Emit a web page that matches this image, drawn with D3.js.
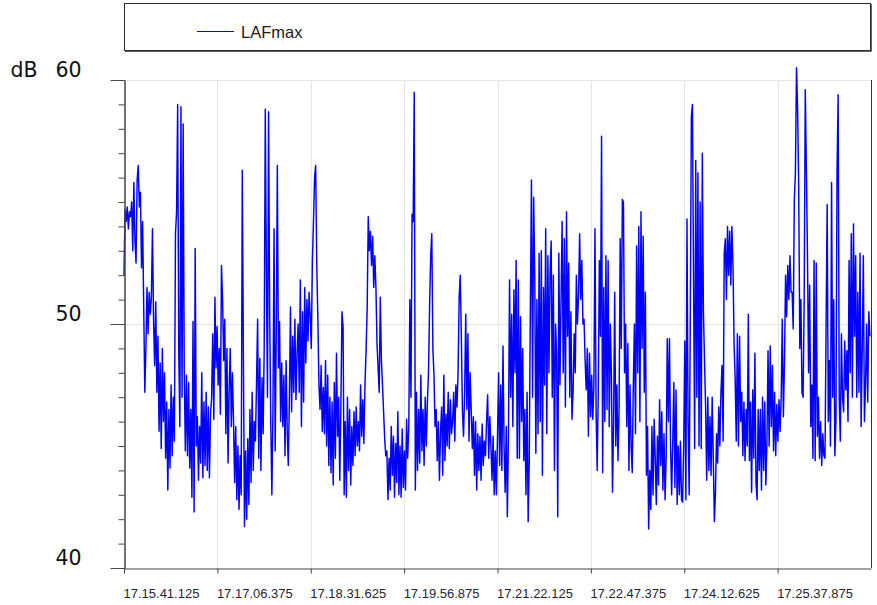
<!DOCTYPE html>
<html>
<head>
<meta charset="utf-8">
<script src="https://cdn.jsdelivr.net/npm/d3@7/dist/d3.min.js"></script>
<style>
  html, body { margin: 0; padding: 0; background: #ffffff; }
  svg { display: block; }
</style>
</head>
<body>
<svg id="chart" width="877" height="605"></svg>
<script>
// Sound level log: LAFmax, one value per second
const seriesName = "LAFmax";
const unitLabel = "dB";
const startTime = "17.15.41.125";
const sampleStepMs = 1000;
const xTickLabels = ["17.15.41.125", "17.17.06.375", "17.18.31.625", "17.19.56.875",
                     "17.21.22.125", "17.22.47.375", "17.24.12.625", "17.25.37.875"];
const yDomain = [40, 60];
const yMajorTicks = [40, 50, 60];
const yMinorTicks = d3.range(40, 61, 1);

const lafmax = [
  52.0, 54.7, 54.2, 54.8, 53.9, 54.6, 54.4, 55.0, 53.0, 55.8,
  53.4, 52.5, 55.9, 56.5, 54.8, 55.4, 52.3, 54.2, 50.7, 47.2,
  49.0, 51.5, 49.6, 51.3, 50.4, 51.1, 53.9, 50.1, 48.3, 50.9,
  47.2, 49.5, 45.6, 48.4, 44.9, 49.0, 46.0, 48.0, 44.5, 46.8,
  43.2, 46.5, 44.1, 47.5, 44.6, 47.0, 45.2, 53.7, 54.6, 59.0,
  48.8, 45.8, 58.9, 47.0, 58.2, 48.1, 44.8, 47.9, 44.6, 47.6,
  44.1, 46.5, 42.9, 50.1, 42.3, 53.1, 45.0, 46.2, 43.6, 45.8,
  44.3, 48.0, 43.7, 46.8, 44.2, 47.2, 44.0, 46.6, 43.7, 46.3,
  47.0, 49.6, 46.1, 51.1, 48.2, 49.9, 47.5, 49.0, 46.3, 52.4,
  51.0, 48.5, 50.2, 45.5, 49.0, 44.3, 47.3, 49.0, 45.8, 48.0,
  46.0, 43.5, 45.8, 42.8, 45.0, 42.4, 44.6, 43.0, 56.3, 48.7,
  41.7, 44.8, 42.0, 45.3, 42.6, 46.5, 43.5, 47.2, 44.0, 46.0,
  45.2, 47.6, 50.2, 44.5, 48.6, 44.0, 47.8, 45.5, 49.0, 58.8,
  52.0, 47.0, 58.7, 50.5, 46.0, 43.0, 46.5, 53.9, 44.8, 49.5,
  56.5, 48.2, 50.1, 46.0, 48.4, 45.8, 47.9, 44.6, 48.5, 45.6,
  44.2, 47.0, 50.7, 46.4, 49.5, 47.2, 50.2, 46.9, 48.8, 50.0,
  47.2, 51.8, 45.8, 50.5, 46.8, 51.5, 48.4, 51.0, 49.3, 51.3,
  50.3, 49.0, 52.6, 54.2, 56.0, 56.5, 52.4, 50.2, 47.5, 46.5,
  48.3, 45.6, 47.4, 45.5, 48.5, 45.0, 47.9, 44.2, 47.0, 43.9,
  46.8, 43.4, 47.6, 44.5, 48.8, 45.4, 47.0, 43.6, 46.6, 50.5,
  49.9, 43.0, 46.0, 42.9, 47.0, 44.0, 46.5, 43.4, 45.8, 44.2,
  46.4, 44.6, 46.6, 45.0, 46.0, 44.8, 47.5, 45.4, 46.9, 45.1,
  47.5, 48.9, 50.6, 54.4, 53.0, 53.8, 52.4, 53.6, 51.5, 52.8,
  51.5, 49.2, 48.2, 47.2, 51.1, 48.5, 47.5, 46.4, 45.3, 44.6,
  44.8, 42.8, 44.5, 43.2, 45.8, 43.8, 45.4, 42.9, 45.1, 43.5,
  46.4, 43.0, 45.0, 42.9, 45.7, 43.3, 44.8, 43.2, 46.1, 44.5,
  45.8, 51.0, 47.0, 54.5, 54.2, 59.5, 43.2, 47.2, 44.0, 46.5,
  44.3, 47.9, 44.8, 46.5, 44.2, 47.0, 45.0, 46.8, 48.0, 50.7,
  52.8, 53.7, 49.0, 47.9, 45.8, 46.5, 44.4, 46.0, 43.6, 45.6,
  46.6, 43.8, 47.9, 44.4, 46.3, 45.0, 47.2, 44.9, 46.9, 45.5,
  46.0, 47.2, 45.2, 47.5, 46.6, 48.0, 51.1, 52.0, 49.4, 46.4,
  45.4, 47.2, 50.4, 46.5, 49.6, 45.2, 48.0, 46.5, 44.9, 46.2,
  43.8, 46.0, 43.2, 45.5, 44.0, 45.4, 43.6, 45.9, 44.2, 45.2,
  44.6, 46.0, 47.1, 44.5, 46.2, 45.0, 43.6, 45.4, 43.0, 44.8,
  43.0, 45.4, 48.0, 44.2, 47.5, 44.0, 49.1, 45.0, 43.1, 45.8,
  42.1, 45.5, 51.8, 47.0, 50.4, 45.8, 51.4, 48.0, 52.6, 44.5,
  51.8, 44.5, 50.3, 46.0, 49.0, 44.4, 46.5, 43.0, 47.2, 41.9,
  44.4, 50.7, 55.9, 47.0, 55.2, 52.0, 44.7, 51.0, 45.5, 52.9,
  46.0, 53.0, 43.8, 51.5, 47.5, 53.9, 45.5, 52.8, 48.0, 52.1,
  53.4, 47.0, 52.0, 44.0, 50.0, 48.8, 42.1, 52.9, 47.5, 51.0,
  54.2, 48.0, 53.5, 46.6, 54.6, 49.5, 52.5, 47.0, 50.5, 46.1,
  47.2, 49.6, 48.0, 52.0, 50.0, 51.2, 53.7, 51.0, 52.6, 50.0,
  50.2, 48.5, 47.3, 49.0, 45.4, 48.8, 46.2, 47.9, 46.1, 47.5,
  53.9, 46.5, 44.0, 47.2, 52.6, 49.5, 57.7, 43.9, 51.5, 46.0,
  52.8, 46.5, 52.6, 45.8, 50.0, 47.9, 43.1, 46.0, 51.3, 45.0,
  47.5, 44.4, 46.5, 53.5, 49.0, 55.1, 55.0, 48.0, 50.0, 45.8,
  49.2, 44.0, 47.5, 45.0, 43.9, 47.5, 50.0, 45.5, 53.2, 48.0,
  54.0, 46.0, 54.6, 49.0, 53.6, 47.2, 51.3, 43.8, 45.8, 41.6,
  44.0, 42.4, 45.8, 43.0, 46.1, 44.5, 42.6, 45.4, 43.4, 46.9,
  44.2, 46.4, 43.2, 45.5, 42.8, 44.6, 49.4, 46.0, 49.4, 45.0,
  43.0, 45.2, 47.6, 43.3, 47.3, 42.6, 45.0, 43.0, 45.2, 42.8,
  42.7, 45.0, 49.3, 42.8, 54.3, 46.0, 43.0, 50.0, 58.5, 59.0,
  51.8, 44.9, 56.7, 47.0, 56.2, 45.0, 55.0, 44.9, 57.0, 50.5,
  48.5, 46.6, 43.6, 47.0, 44.0, 46.2, 43.8, 47.0, 44.5, 41.9,
  43.1, 45.5, 44.3, 46.6, 45.0, 47.2, 48.3, 45.2, 52.9, 53.5,
  51.0, 54.0, 52.0, 53.8, 51.6, 54.0, 52.4, 49.2, 47.7, 45.2,
  49.6, 45.0, 49.5, 46.0, 47.2, 44.6, 46.8, 44.4, 46.5, 45.0,
  50.4, 44.4, 46.8, 43.1, 47.3, 44.5, 48.8, 43.5, 42.8, 46.5,
  44.0, 46.5, 43.2, 47.0, 44.0, 46.8, 43.4, 45.2, 48.9, 45.0,
  49.1, 45.8, 48.3, 44.8, 47.2, 44.6, 46.7, 45.2, 46.9, 45.6,
  47.0, 50.2, 46.2, 48.4, 52.0, 50.3, 52.4, 51.0, 52.8, 51.3,
  51.3, 49.8, 55.1, 56.2, 60.5, 58.8, 55.6, 49.0, 51.0, 47.2,
  47.0, 51.0, 59.6, 56.4, 52.8, 48.0, 51.6, 45.8, 47.5, 44.5,
  52.6, 44.4, 52.5, 45.4, 47.0, 44.5, 46.0, 44.2, 45.5, 44.6,
  44.5, 50.0, 54.9, 46.0, 48.5, 45.0, 55.8, 47.0, 51.0, 44.6,
  46.0, 56.3, 59.4, 47.0, 45.2, 49.6, 47.0, 46.4, 49.3, 47.3,
  48.9, 46.0, 52.6, 48.0, 53.7, 47.0, 54.1, 49.5, 52.8, 47.0,
  51.3, 47.2, 52.9, 45.8, 49.0, 52.8, 46.0, 47.5, 50.0, 46.8,
  50.5, 49.5
];

const parseT = d3.timeParse("%H.%M.%S.%L");
const fmtT = d3.timeFormat("%H.%M.%S.%L");
const t0 = parseT(startTime);
const tickTimes = xTickLabels.map(parseT);
const tickStep = tickTimes[1] - tickTimes[0];
const tEnd = new Date(+tickTimes[tickTimes.length - 1] + tickStep);

const plot = { left: 124, right: 871, top: 80, bottom: 568 };

const x = d3.scaleTime().domain([t0, tEnd]).range([plot.left, plot.right]);
const y = d3.scaleLinear().domain(yDomain).range([plot.bottom, plot.top]);

const svg = d3.select("#chart");

svg.append("rect").attr("width", 877).attr("height", 605).attr("fill", "#ffffff");

// Legend frame
const legend = svg.append("g");
legend.append("rect")
  .attr("x", 124.5).attr("y", 3.5).attr("width", 746).attr("height", 47)
  .attr("fill", "#ffffff").attr("stroke", "#2b2b2b").attr("stroke-width", 1);
legend.append("path")
  .attr("d", "M125,51.5H871.5V4")
  .attr("fill", "none").attr("stroke", "#666666").attr("stroke-width", 1);
legend.append("line")
  .attr("x1", 197).attr("x2", 234).attr("y1", 31.5).attr("y2", 31.5)
  .attr("stroke", "#0000ff").attr("stroke-width", 1);
legend.append("text")
  .attr("x", 241).attr("y", 37.5)
  .attr("font-family", "'Liberation Sans', Arial, sans-serif")
  .attr("font-size", 16.5).attr("fill", "#1a1a1a")
  .text(seriesName);

// Grid
const grid = svg.append("g").attr("stroke", "#e6e6e6").attr("stroke-width", 1);
grid.selectAll("line.v")
  .data(tickTimes.slice(1))
  .join("line")
  .attr("x1", d => Math.round(x(d)) + 0.5).attr("x2", d => Math.round(x(d)) + 0.5)
  .attr("y1", plot.top).attr("y2", plot.bottom);
grid.selectAll("line.h")
  .data(yMajorTicks.filter(v => v > yDomain[0]))
  .join("line")
  .attr("x1", plot.left).attr("x2", plot.right)
  .attr("y1", d => Math.round(y(d)) + 0.5).attr("y2", d => Math.round(y(d)) + 0.5);

// Series
const line = d3.line()
  .x((d, i) => x(new Date(+t0 + i * sampleStepMs)))
  .y(d => y(d));
svg.append("path")
  .datum(lafmax)
  .attr("fill", "none")
  .attr("stroke", "#0000ff")
  .attr("stroke-width", 1.45)
  .attr("stroke-linejoin", "round")
  .attr("d", line);

// Right frame edge
svg.append("line")
  .attr("x1", plot.right + 0.5).attr("x2", plot.right + 0.5)
  .attr("y1", plot.top).attr("y2", plot.bottom)
  .attr("stroke", "#333333");

const axisColor = "#444444";

// Y axis: minor ticks
const yMinor = svg.append("g")
  .attr("transform", `translate(${plot.left + 0.5},0)`)
  .call(d3.axisLeft(y).tickValues(yMinorTicks).tickSize(6).tickSizeOuter(0).tickFormat(""));
// Y axis: major ticks with labels
const yMajor = svg.append("g")
  .attr("transform", `translate(${plot.left + 0.5},0)`)
  .call(d3.axisLeft(y).tickValues(yMajorTicks).tickSize(14).tickSizeOuter(0).tickFormat(d3.format("d")));
[yMinor, yMajor].forEach(g => {
  g.select(".domain").attr("stroke", axisColor);
  g.selectAll(".tick line").attr("stroke", axisColor);
});
yMajor.selectAll(".tick text")
  .attr("x", -43).attr("y", -3.5).attr("dy", null)
  .attr("text-anchor", "end")
  .attr("font-family", "'DejaVu Sans', Verdana, sans-serif")
  .attr("font-size", 20.5).attr("fill", "#111111");

svg.append("text")
  .attr("x", 10.5).attr("y", y(yDomain[1]) - 3.5)
  .attr("font-family", "'DejaVu Sans', Verdana, sans-serif")
  .attr("font-size", 20.5).attr("fill", "#111111")
  .text(unitLabel);

// X axis
const xAxis = svg.append("g")
  .attr("transform", `translate(0,${plot.bottom + 0.5})`)
  .call(d3.axisBottom(x).tickValues(tickTimes).tickSize(5).tickSizeOuter(0).tickFormat(fmtT));
xAxis.select(".domain").attr("stroke", axisColor);
xAxis.selectAll(".tick text")
  .attr("x", -1).attr("y", 29.5).attr("dy", null)
  .attr("text-anchor", "start")
  .attr("font-family", "'Liberation Sans', Arial, sans-serif")
  .attr("font-size", 13).attr("fill", "#2a2233");
xAxis.selectAll(".tick line").attr("stroke", axisColor);
</script>
</body>
</html>
